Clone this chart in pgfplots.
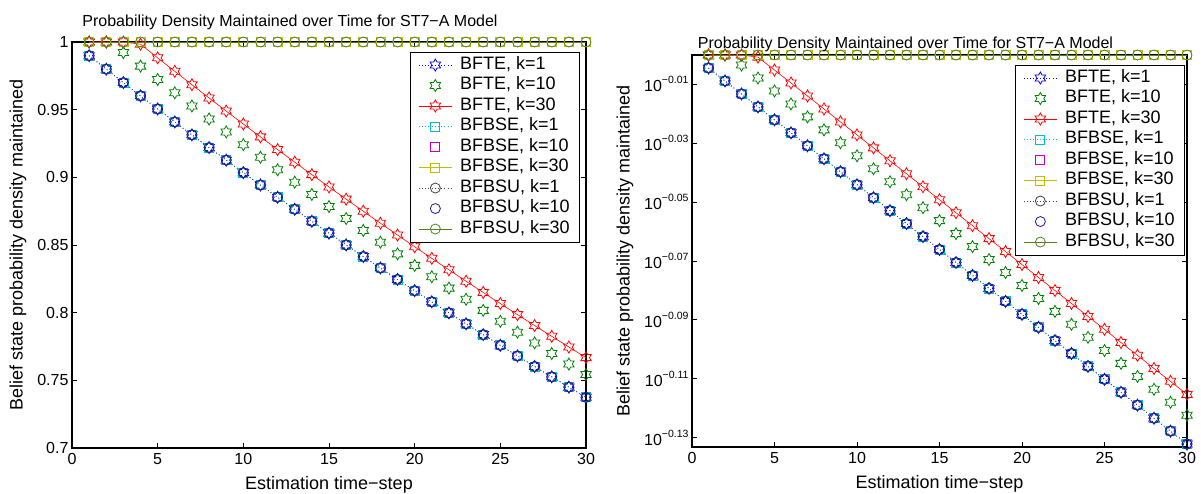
\documentclass[border=0pt]{standalone}
\usepackage{fontspec}
\setmainfont{Liberation Sans}
\usepackage{pgfplots}
\usepackage{pgfplotstable}
\pgfplotsset{compat=1.18}

\pgfdeclareplotmark{hexagram}{%
  \pgfpathmoveto{\pgfqpointpolar{90}{\pgfplotmarksize}}%
  \pgfpathlineto{\pgfqpointpolar{120}{0.57735\pgfplotmarksize}}%
  \pgfpathlineto{\pgfqpointpolar{150}{\pgfplotmarksize}}%
  \pgfpathlineto{\pgfqpointpolar{180}{0.57735\pgfplotmarksize}}%
  \pgfpathlineto{\pgfqpointpolar{210}{\pgfplotmarksize}}%
  \pgfpathlineto{\pgfqpointpolar{240}{0.57735\pgfplotmarksize}}%
  \pgfpathlineto{\pgfqpointpolar{270}{\pgfplotmarksize}}%
  \pgfpathlineto{\pgfqpointpolar{300}{0.57735\pgfplotmarksize}}%
  \pgfpathlineto{\pgfqpointpolar{330}{\pgfplotmarksize}}%
  \pgfpathlineto{\pgfqpointpolar{0}{0.57735\pgfplotmarksize}}%
  \pgfpathlineto{\pgfqpointpolar{30}{\pgfplotmarksize}}%
  \pgfpathlineto{\pgfqpointpolar{60}{0.57735\pgfplotmarksize}}%
  \pgfpathclose
  \pgfusepathqstroke
}

\definecolor{mblue}{rgb}{0,0,1}
\definecolor{mgreen}{rgb}{0,0.5,0}
\definecolor{mred}{rgb}{1,0,0}
\definecolor{mcyan}{rgb}{0,0.75,0.75}
\definecolor{mmag}{rgb}{0.75,0,0.75}
\definecolor{myel}{rgb}{0.75,0.75,0}
\definecolor{mgray}{rgb}{0.25,0.25,0.25}
\definecolor{mnavy}{rgb}{0.1,0.1,0.6}
\definecolor{molive}{rgb}{0.33,0.5,0.1}

\pgfplotstableread{
t D G R O
1 0.98990 1 1 1
2 0.97990 1 1 1
3 0.97000 0.99220 1 1
4 0.96021 0.98218 0.99838 1
5 0.95051 0.97226 0.98830 1
6 0.94091 0.96243 0.97832 1
7 0.93140 0.95272 0.96843 1
8 0.92200 0.94309 0.95865 1
9 0.91269 0.93357 0.94897 1
10 0.90347 0.92414 0.93939 1
11 0.89434 0.91481 0.92990 1
12 0.88531 0.90557 0.92051 1
13 0.87637 0.89642 0.91121 1
14 0.86752 0.88737 0.90201 1
15 0.85876 0.87840 0.89290 1
16 0.85008 0.86953 0.88388 1
17 0.84150 0.86075 0.87495 1
18 0.83300 0.85206 0.86611 1
19 0.82458 0.84345 0.85737 1
20 0.81625 0.83493 0.84871 1
21 0.80801 0.82650 0.84014 1
22 0.79985 0.81815 0.83165 1
23 0.79177 0.80989 0.82325 1
24 0.78377 0.80171 0.81494 1
25 0.77586 0.79361 0.80672 1
26 0.76802 0.78560 0.79856 1
27 0.76027 0.77766 0.79050 1
28 0.75259 0.76981 0.78251 1
29 0.74499 0.76203 0.77460 1
30 0.73746 0.75433 0.76678 1
}\data

\newcommand\fst{\fontsize{16}{18}\selectfont}
\newcommand\fsl{\fontsize{18}{20}\selectfont}

\pgfplotsset{
  common/.style={
    scale only axis, xmin=0, xmax=30, xtick={0,5,...,30},
    tick align=inside, major tick length=5pt,
    every tick/.style={black, line width=0.8pt},
    axis line style={line width=1.2pt, black},
    clip=false,
    font=\fst,
    tick label style={font=\fst},
    xticklabel style={yshift=-2pt},
    /pgf/number format/assume math mode=true,
    xlabel={Estimation time−step},
    ylabel={Belief state probability density maintained},
    title={Probability Density Maintained over Time for ST7−A Model},
    xlabel style={font=\fsl, at={(axis description cs:0.5,0)}, anchor=center, yshift=-37pt},
    ylabel style={font=\fsl},
    title style={font=\fst},
    legend cell align=left,
    legend style={draw=black, line width=0.6pt, font=\fsl, anchor=north east,
      inner xsep=8pt, inner ysep=2.5pt, row sep=0pt,
      nodes={inner sep=2pt, text height=12.5pt, text depth=4pt},
      /tikz/every odd column/.append style={column sep=6pt}},
    legend image code/.code={\draw[mark repeat=2,mark phase=2] plot coordinates {(0pt,0pt) (16.5pt,0pt) (33pt,0pt)};},
  },
  s1/.style={line width=0.6pt, dash pattern=on 0.8pt off 2.4pt, mark options={solid, line width=0.8pt}},
  s10/.style={line width=0.6pt, only marks, mark options={solid, line width=0.8pt}},
  s30/.style={line width=0.6pt, solid, mark options={solid, line width=0.8pt}},
}

\newcommand\plotall{%
  \addplot[s1, color=mblue, mark=hexagram, mark size=6pt] table[x=t,y=D]{\data};
  \addlegendentry{BFTE, k=1}
  \addplot[s10, color=mgreen, mark=hexagram, mark size=6pt] table[x=t,y=G]{\data};
  \addlegendentry{BFTE, k=10}
  \addplot[s30, color=mred, mark=hexagram, mark size=6pt] table[x=t,y=R]{\data};
  \addlegendentry{BFTE, k=30}
  \addplot[s1, color=mcyan, mark=square, mark size=4.5pt] table[x=t,y=D]{\data};
  \addlegendentry{BFBSE, k=1}
  \addplot[s10, color=mmag, mark=square, mark size=4.5pt] table[x=t,y=O]{\data};
  \addlegendentry{BFBSE, k=10}
  \addplot[s30, color=myel, mark=square, mark size=4.5pt] table[x=t,y=O]{\data};
  \addlegendentry{BFBSE, k=30}
  \addplot[s1, color=mgray, mark=o, mark size=5pt] table[x=t,y=D]{\data};
  \addlegendentry{BFBSU, k=1}
  \addplot[s10, color=mnavy, mark=o, mark size=5pt] table[x=t,y=D]{\data};
  \addlegendentry{BFBSU, k=10}
  \addplot[s30, color=molive, mark=o, mark size=5pt] table[x=t,y=O]{\data};
  \addlegendentry{BFBSU, k=30}
}

\newcommand\ex[1]{10\raisebox{8pt}{\fontsize{10.5}{11}\selectfont −#1}}

\begin{document}
\begin{tikzpicture}
\useasboundingbox (0pt,0pt) rectangle (1201pt,-494pt);
\begin{axis}[common,
  at={(72pt,-42pt)}, anchor=north west,
  width=514pt, height=406pt,
  ymin=0.7, ymax=1,
  ytick={0.7,0.75,0.8,0.85,0.9,0.95,1},
  yticklabels={0.7,0.75,0.8,0.85,0.9,0.95,1},
  title style={at={(axis description cs:0.5,1)}, anchor=center, xshift=-39pt, yshift=14pt},
  ylabel style={at={(axis description cs:-0.105,0.5)}, anchor=center},
  legend style={at={(axis description cs:1,1)}, xshift=-6pt, yshift=-10pt},
]
\plotall
\end{axis}
\begin{axis}[common,
  at={(692pt,-55pt)}, anchor=north west,
  width=495pt, height=392pt,
  ymode=log, ymin=0.7358, ymax=1,
  ytick={0.97724,0.93325,0.89125,0.85114,0.81283,0.77625,0.74131},
  yticklabels={\ex{0.01},\ex{0.03},\ex{0.05},\ex{0.07},\ex{0.09},\ex{0.11},\ex{0.13}},
  minor ytick={},
  title style={at={(axis description cs:0.5,1)}, anchor=center, xshift=-34pt, yshift=5pt},
  ylabel style={at={(axis description cs:-0.1354,0.5)}, anchor=center},
  legend style={at={(axis description cs:1,1)}, xshift=-2pt, yshift=-10pt},
]
\plotall
\end{axis}
\end{tikzpicture}
\end{document}
